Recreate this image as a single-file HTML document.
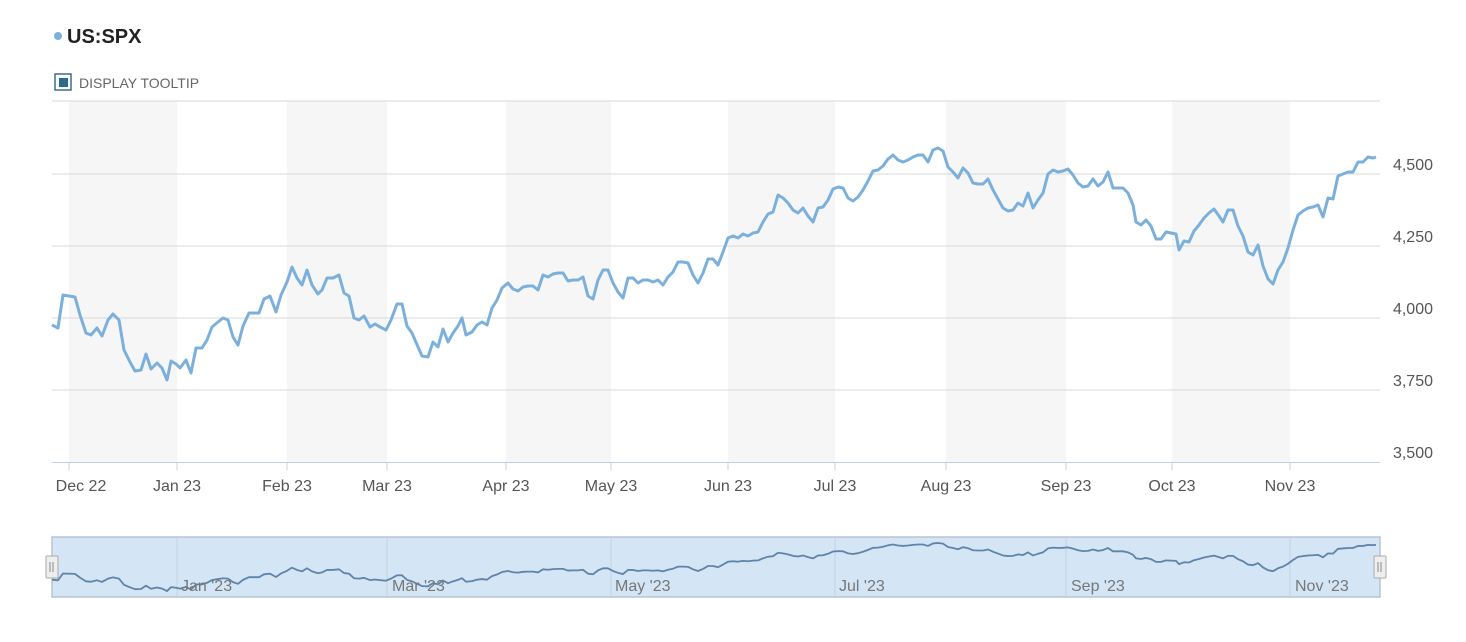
<!DOCTYPE html>
<html><head><meta charset="utf-8"><style>
body{margin:0;background:#fff;width:1466px;height:637px;overflow:hidden;font-family:"Liberation Sans",sans-serif}
</style></head><body>
<svg width="1466" height="637" xmlns="http://www.w3.org/2000/svg" font-family="Liberation Sans, sans-serif">
<circle cx="58" cy="36" r="4" fill="#7cb0dc"/>
<text x="67" y="43" font-size="20" font-weight="bold" fill="#222">US:SPX</text>
<rect x="55" y="74" width="16" height="16" fill="#fff" stroke="#3d6e8a" stroke-width="1.5"/>
<rect x="59" y="78" width="9" height="9" fill="#2e6a8e"/>
<text x="79" y="88" font-size="14" fill="#666">DISPLAY TOOLTIP</text>
<g fill="#f6f6f6">
<rect x="69" y="101" width="108" height="362"/><rect x="287" y="101" width="100" height="362"/>
<rect x="506" y="101" width="105" height="362"/><rect x="728" y="101" width="107" height="362"/>
<rect x="946" y="101" width="120" height="362"/><rect x="1172" y="101" width="118" height="362"/>
</g>
<g stroke="#d8d8d8" stroke-width="1">
<line x1="52" x2="1380" y1="101" y2="101"/><line x1="52" x2="1380" y1="174" y2="174"/>
<line x1="52" x2="1380" y1="246" y2="246"/><line x1="52" x2="1380" y1="318" y2="318"/>
<line x1="52" x2="1380" y1="390" y2="390"/>
</g>
<line x1="52" x2="1380" y1="462.5" y2="462.5" stroke="#c0d0e0"/>
<g stroke="#c0d0e0"><line x1="69" x2="69" y1="462" y2="470"/><line x1="177" x2="177" y1="462" y2="470"/><line x1="287" x2="287" y1="462" y2="470"/><line x1="387" x2="387" y1="462" y2="470"/><line x1="506" x2="506" y1="462" y2="470"/><line x1="611" x2="611" y1="462" y2="470"/><line x1="728" x2="728" y1="462" y2="470"/><line x1="835" x2="835" y1="462" y2="470"/><line x1="946" x2="946" y1="462" y2="470"/><line x1="1066" x2="1066" y1="462" y2="470"/><line x1="1172" x2="1172" y1="462" y2="470"/><line x1="1290" x2="1290" y1="462" y2="470"/></g>
<g font-size="16" fill="#555" text-anchor="end">
<text x="1433" y="170">4,500</text><text x="1433" y="242">4,250</text><text x="1433" y="314">4,000</text><text x="1433" y="386">3,750</text><text x="1433" y="458">3,500</text>
</g>
<g font-size="16" fill="#555" text-anchor="middle">
<text x="81" y="491">Dec 22</text><text x="177" y="491">Jan 23</text><text x="287" y="491">Feb 23</text><text x="387" y="491">Mar 23</text><text x="506" y="491">Apr 23</text><text x="611" y="491">May 23</text><text x="728" y="491">Jun 23</text><text x="835" y="491">Jul 23</text><text x="946" y="491">Aug 23</text><text x="1066" y="491">Sep 23</text><text x="1172" y="491">Oct 23</text><text x="1290" y="491">Nov 23</text>
</g>
<defs><polyline id="d" fill="none" vector-effect="non-scaling-stroke" points="52,325 58,328 63,295 75,297 80,315 86,333 91,335 97,328 102,336 108,320 113,314 119,320 124,350 130,362 135,371 141,370 146,354 151,369 157,363 162,368 167,380 171,361 176,364 180,368 186,360 191,373 196,348 202,348 207,340 212,327 218,322 223,318 228,320 233,337 238,345 243,326 249,313 254,313 259,313 264,299 270,296 276,312 281,295 287,282 292,267 297,278 302,285 307,270 312,285 318,294 322,290 327,278 333,278 339,275 344,293 349,296 354,318 359,320 364,316 370,327 375,324 380,327 386,330 391,320 397,304 402,304 407,326 412,333 415,340 422,356 428,357 433,342 438,347 443,329 448,342 453,333 458,326 462,318 466,335 472,332 477,325 482,322 487,325 492,308 497,300 502,288 508,283 513,289 518,291 523,287 528,286 533,286 538,290 543,275 548,277 553,274 558,273 563,273 568,281 573,280 578,280 583,277 588,296 593,299 598,280 603,270 608,270 613,283 618,292 623,298 628,278 633,278 638,283 643,280 648,280 653,282 658,280 663,285 668,277 673,272 678,262 683,262 688,263 693,275 698,283 703,273 708,259 713,259 718,265 723,252 728,238 733,236 738,238 743,234 748,236 753,233 758,232 763,222 768,214 773,212 778,195 783,198 788,203 793,210 798,213 803,208 808,216 813,222 818,208 823,207 828,200 833,189 838,187 843,188 848,198 853,201 858,197 863,190 868,181 873,171 878,170 883,166 888,159 893,155 898,160 903,162 908,160 913,157 918,155 923,155 928,162 933,150 938,148 943,151 948,167 953,172 958,178 963,168 968,173 973,183 978,184 983,184 988,179 993,190 998,199 1003,208 1008,211 1013,210 1018,203 1023,206 1028,193 1033,208 1038,200 1043,193 1048,174 1053,170 1058,172 1063,171 1068,169 1073,175 1078,183 1083,187 1088,186 1093,179 1098,186 1103,182 1108,172 1113,188 1118,188 1123,188 1128,193 1133,205 1136,222 1141,225 1146,220 1151,226 1156,239 1161,239 1166,232 1171,233 1176,234 1179,250 1184,241 1189,242 1194,231 1199,225 1204,218 1209,213 1214,209 1219,216 1223,222 1228,210 1233,210 1238,226 1243,236 1248,252 1253,255 1258,245 1263,266 1268,279 1273,284 1278,270 1283,262 1288,248 1293,230 1298,215 1303,211 1308,208 1313,207 1318,205 1323,217 1328,198 1333,199 1338,176 1343,174 1348,172 1353,172 1358,162 1363,162 1368,157 1373,158 1376,157"/></defs>
<use href="#d" stroke="#7cb0dc" stroke-width="3" stroke-linejoin="round"/>
<rect x="52" y="537" width="1328" height="60" fill="#d4e5f6" stroke="#b8c4d0" stroke-width="1.5"/>
<g stroke="#c4d2e0"><line x1="177" x2="177" y1="538" y2="597"/><line x1="387" x2="387" y1="538" y2="597"/><line x1="611" x2="611" y1="538" y2="597"/><line x1="835" x2="835" y1="538" y2="597"/><line x1="1066" x2="1066" y1="538" y2="597"/><line x1="1290" x2="1290" y1="538" y2="597"/></g>
<use href="#d" transform="translate(0,512.4) scale(1,0.207)" stroke="#5f84a8" stroke-width="1.8" stroke-linejoin="round"/>
<g font-size="16" fill="#777">
<text x="181" y="591">Jan '23</text><text x="392" y="591">Mar '23</text><text x="615" y="591">May '23</text><text x="839" y="591">Jul '23</text><text x="1071" y="591">Sep '23</text><text x="1295" y="591">Nov '23</text>
</g>
<g fill="#eee" stroke="#aaa"><rect x="46" y="556" width="12" height="22" rx="1"/><rect x="1374" y="556" width="12" height="22" rx="1"/></g>
<g stroke="#888"><line x1="50" x2="50" y1="562" y2="572"/><line x1="53" x2="53" y1="562" y2="572"/><line x1="1378" x2="1378" y1="562" y2="572"/><line x1="1381" x2="1381" y1="562" y2="572"/></g>
</svg>
</body></html>
